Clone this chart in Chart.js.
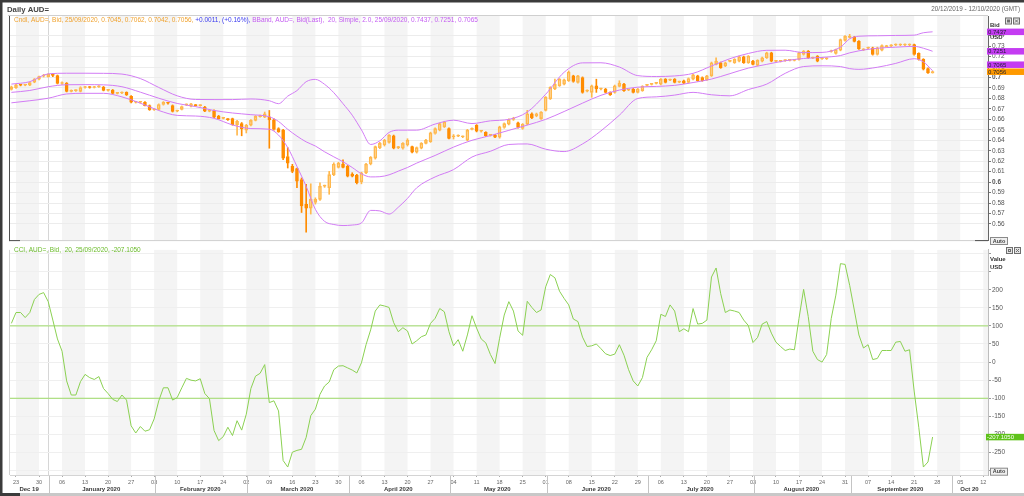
<!DOCTYPE html>
<html>
<head>
<meta charset="utf-8">
<script src="https://cdn.jsdelivr.net/npm/chart.js@4.4.0/dist/chart.umd.min.js"></script>
<style>
  html, body { margin: 0; padding: 0; background: #fff; }
  body { width: 1024px; height: 496px; position: relative; overflow: hidden; }
  canvas { position: absolute; left: 0; }
  #priceChart { top: 0; }
  #cciChart { top: 245px; }
</style>
</head>
<body>
<canvas id="priceChart" width="1024" height="245"></canvas>
<canvas id="cciChart" width="1024" height="251"></canvas>
<script>
// Daily AUD= candles, 20/12/2019 .. 25/09/2020 (one entry per trading day)
const opens = [
  .6886,.6902,.6928,.6927,.6927,.6955,.6984,.7012,.7009,.7028,
  .7018,.6943,.6946,.6868,.6874,.6868,.6905,.6908,.6905,.6910,
  .6908,.6877,.6880,.6849,.6852,.6858,.6820,.6764,.6764,.6764,
  .6732,.6692,.6695,.6742,.6758,.6732,.6679,.6695,.6738,.6726,
  .6735,.6732,.6717,.6679,.6685,.6632,.6610,.6600,.6607,.6550,
  .6559,.6497,.6544,.6591,.6626,.6622,.6625,.6595,.6512,.6497,
  .6245,.6151,.6129,.6025,.5789,.5751,.5805,.5836,.5962,.5946,
  .6072,.6141,.6173,.6151,.6078,.6066,.6003,.6088,.6173,.6229,
  .6330,.6355,.6380,.6443,.6330,.6324,.6355,.6339,.6286,.6324,
  .6371,.6386,.6465,.6497,.6528,.6512,.6434,.6440,.6434,.6402,
  .6505,.6544,.6487,.6475,.6449,.6449,.6430,.6522,.6555,.6600,
  .6566,.6513,.6553,.6654,.6632,.6607,.6686,.6796,.6890,.6921,
  .6937,.6969,.7016,.6953,.7000,.6870,.6858,.6921,.6890,.6890,
  .6858,.6858,.6915,.6937,.6881,.6890,.6858,.6874,.6925,.6934,
  .6944,.6937,.6984,.6975,.6984,.6956,.6969,.6953,.6984,.7016,
  .7000,.6978,.7016,.7126,.7141,.7110,.7154,.7141,.7157,.7198,
  .7141,.7157,.7116,.7157,.7189,.7236,.7154,.7154,.7161,.7164,
  .7164,.7173,.7220,.7252,.7186,.7204,.7179,.7179,.7249,.7230,
  .7261,.7355,.7384,.7387,.7346,.7264,.7280,.7283,.7220,.7261,
  .7296,.7302,.7311,.7311,.7311,.7311,.7314,.7230,.7173,.7085,
  .7045
];
const highs = [
  .6918,.6936,.6934,.6933,.6958,.6990,.7014,.7030,.7036,.7038,
  .7024,.6958,.6952,.6882,.6882,.6912,.6916,.6914,.6916,.6922,
  .6915,.6886,.6886,.6858,.6864,.6863,.6828,.6772,.6772,.6770,
  .6738,.6700,.6748,.6770,.6764,.6738,.6688,.6728,.6748,.6754,
  .6742,.6740,.6724,.6686,.6690,.6638,.6620,.6608,.6612,.6590,
  .6570,.6552,.6598,.6636,.6640,.6670,.6685,.6605,.6520,.6505,
  .6330,.6170,.6135,.6040,.5978,.5984,.5850,.5994,.5972,.6103,
  .6185,.6190,.6214,.6160,.6090,.6075,.6095,.6180,.6245,.6345,
  .6380,.6410,.6455,.6450,.6342,.6378,.6415,.6345,.6336,.6378,
  .6410,.6478,.6518,.6566,.6582,.6518,.6455,.6452,.6442,.6505,
  .6520,.6550,.6495,.6482,.6456,.6458,.6535,.6566,.6604,.6620,
  .6575,.6560,.6686,.6662,.6660,.6675,.6818,.6912,.6984,.6990,
  .6985,.7063,.7022,.7022,.7006,.6882,.6928,.6984,.6898,.6896,
  .6864,.6928,.6969,.6944,.6890,.6896,.6896,.6922,.6936,.6944,
  .6954,.6990,.6990,.6986,.6990,.6966,.6975,.6996,.7032,.7022,
  .7006,.7022,.7148,.7189,.7148,.7148,.7165,.7180,.7205,.7205,
  .7210,.7164,.7170,.7196,.7242,.7242,.7164,.7164,.7170,.7174,
  .7174,.7242,.7258,.7258,.7196,.7210,.7190,.7190,.7262,.7273,
  .7368,.7400,.7413,.7394,.7352,.7276,.7292,.7290,.7290,.7312,
  .7308,.7314,.7322,.7322,.7322,.7322,.7320,.7236,.7180,.7092,
  .7062
];
const lows = [
  .6880,.6896,.6920,.6921,.6922,.6950,.6978,.7005,.7003,.7008,
  .6938,.6935,.6862,.6862,.6866,.6862,.6898,.6898,.6900,.6906,
  .6872,.6870,.6843,.6842,.6846,.6828,.6758,.6756,.6755,.6728,
  .6686,.6686,.6690,.6736,.6746,.6670,.6672,.6690,.6732,.6720,
  .6726,.6726,.6674,.6672,.6617,.6602,.6604,.6590,.6544,.6449,
  .6443,.6470,.6538,.6585,.6620,.6616,.6324,.6497,.6476,.6215,
  .6135,.6090,.5946,.5710,.5522,.5695,.5790,.5826,.5950,.5884,
  .6062,.6135,.6135,.6050,.6050,.5984,.5984,.6080,.6165,.6220,
  .6320,.6345,.6372,.6318,.6320,.6316,.6345,.6280,.6278,.6318,
  .6365,.6380,.6458,.6490,.6522,.6412,.6412,.6434,.6425,.6395,
  .6500,.6480,.6478,.6436,.6440,.6425,.6420,.6515,.6548,.6590,
  .6516,.6505,.6548,.6606,.6625,.6600,.6680,.6790,.6884,.6915,
  .6930,.6962,.6955,.6946,.6850,.6862,.6811,.6858,.6882,.6852,
  .6828,.6850,.6910,.6868,.6874,.6852,.6852,.6868,.6920,.6928,
  .6938,.6930,.6948,.6970,.6948,.6950,.6942,.6948,.6978,.6964,
  .6964,.6972,.7010,.7120,.7088,.7104,.7148,.7135,.7150,.7135,
  .7135,.7120,.7110,.7150,.7182,.7150,.7148,.7148,.7155,.7158,
  .7158,.7166,.7214,.7182,.7180,.7150,.7172,.7172,.7242,.7224,
  .7255,.7348,.7378,.7340,.7268,.7258,.7274,.7214,.7214,.7255,
  .7290,.7296,.7304,.7304,.7304,.7304,.7214,.7166,.7072,.7040,
  .7042
];
const closes = [
  .6912,.6930,.6927,.6927,.6952,.6984,.7009,.7020,.7031,.7020,
  .6943,.6946,.6868,.6874,.6874,.6905,.6908,.6905,.6908,.6915,
  .6877,.6877,.6849,.6849,.6858,.6833,.6764,.6764,.6764,.6732,
  .6692,.6695,.6742,.6764,.6754,.6676,.6682,.6723,.6742,.6748,
  .6732,.6732,.6679,.6679,.6622,.6607,.6613,.6597,.6550,.6581,
  .6512,.6544,.6591,.6629,.6629,.6654,.6595,.6503,.6481,.6229,
  .6182,.6103,.6009,.5773,.5751,.5836,.5836,.5962,.5962,.6072,
  .6173,.6182,.6141,.6056,.6056,.5994,.6088,.6173,.6236,.6339,
  .6371,.6402,.6449,.6324,.6330,.6371,.6402,.6286,.6330,.6371,
  .6402,.6471,.6512,.6560,.6575,.6418,.6434,.6443,.6434,.6497,
  .6512,.6487,.6487,.6443,.6449,.6430,.6528,.6560,.6597,.6607,
  .6522,.6553,.6654,.6613,.6654,.6670,.6811,.6906,.6937,.6984,
  .6978,.7053,.6962,.7016,.6858,.6874,.6921,.6890,.6890,.6858,
  .6833,.6921,.6947,.6874,.6881,.6858,.6890,.6915,.6928,.6937,
  .6947,.6984,.6953,.6978,.6953,.6959,.6947,.6991,.7025,.6969,
  .6969,.7016,.7141,.7157,.7094,.7141,.7157,.7173,.7198,.7141,
  .7204,.7126,.7164,.7189,.7236,.7157,.7157,.7157,.7164,.7167,
  .7167,.7236,.7252,.7189,.7189,.7157,.7182,.7182,.7252,.7267,
  .7362,.7393,.7387,.7346,.7274,.7267,.7283,.7220,.7283,.7305,
  .7299,.7305,.7314,.7314,.7314,.7314,.7220,.7173,.7079,.7045,
  .7056
];

// Bollinger band (20, 2.0) at these trading days
const bbDays = [0,4,8,12,16,20,24,28,32,36,40,44,48,52,56,58,60,62,64,66,
  68,70,72,74,76,78,80,82,84,86,88,92,96,100,104,108,112,116,120,124,
  128,132,136,140,144,148,152,156,160,164,168,172,176,180,182,184,188,192,196,198,200];
const bbUpper = [.6937,.6960,.7035,.7041,.7041,.7040,.7033,.6990,.6905,.6825,
  .6790,.6789,.6789,.6795,.6778,.6750,.6822,.6875,.6960,.6982,
  .6935,.6855,.6750,.6640,.6500,.6360,.6395,.6475,.6497,.6497,
  .6497,.6555,.6592,.6560,.6586,.6600,.6670,.6840,.7050,.7140,
  .7141,.7100,.7018,.7010,.7015,.7040,.7110,.7180,.7230,.7260,
  .7261,.7238,.7240,.7290,.7370,.7395,.7399,.7402,.7405,.7428,.7437];
const bbMiddle = [.6858,.6876,.6912,.6931,.6932,.6930,.6912,.6860,.6802,.6752,
  .6722,.6685,.6661,.6645,.6625,.6580,.6505,.6440,.6385,.6345,
  .6290,.6242,.6195,.6140,.6080,.6050,.6052,.6070,.6105,.6140,
  .6182,.6255,.6335,.6400,.6445,.6495,.6545,.6600,.6675,.6755,
  .6830,.6880,.6908,.6915,.6925,.6952,.6985,.7037,.7090,.7126,
  .7160,.7182,.7192,.7210,.7236,.7255,.7280,.7290,.7298,.7280,.7251];
const bbLower = [.6758,.6778,.6802,.6843,.6849,.6849,.6815,.6755,.6685,.6638,
  .6632,.6610,.6547,.6512,.6506,.6450,.6330,.6150,.5960,.5740,
  .5625,.5595,.5585,.5590,.5610,.5730,.5725,.5695,.5760,.5845,
  .5946,.6050,.6120,.6240,.6295,.6360,.6365,.6315,.6292,.6365,
  .6490,.6640,.6800,.6815,.6832,.6858,.6835,.6825,.6885,.6937,
  .7040,.7105,.7112,.7105,.7085,.7078,.7098,.7135,.7180,.7150,.7065];

// CCI(20), one value per trading day
const cci = [
  107,137,137,123,137,173,187,192,167,116,
  64,30,-52,-91,-91,-54,-34,-43,-48,-40,
  -73,-87,-103,-109,-91,-105,-176,-196,-178,-191,
  -187,-157,-107,-71,-71,-105,-98,-71,-45,-50,
  -52,-46,-87,-101,-189,-217,-206,-180,-203,-162,
  -188,-144,-73,-39,-31,-7,-112,-107,-135,-272,
  -290,-249,-244,-241,-208,-148,-130,-89,-66,-55,
  -21,-11,-10,-16,-22,-30,-2,48,89,141,
  158,155,151,109,84,95,86,50,59,70,
  75,107,121,148,139,84,45,62,30,75,
  128,94,64,53,21,-4,66,130,167,141,
  86,74,168,151,137,144,208,242,233,196,
  176,158,119,112,69,43,45,50,37,23,
  18,22,48,19,-21,-52,-66,-43,13,34,
  59,132,126,158,141,84,92,84,148,105,
  107,116,235,260,189,137,144,141,137,116,
  101,54,68,105,112,80,55,43,32,36,
  34,121,201,126,30,7,0,21,121,185,
  272,270,212,144,75,39,48,7,10,32,
  32,32,55,57,30,34,-80,-180,-290,-276,
  -207.105
];
const cciLevels = [100, -100];

const priceTicks = [0.56,0.57,0.58,0.59,0.6,0.61,0.62,0.63,0.64,0.65,0.66,0.67,0.68,0.69,0.7,0.71,0.72,0.73,0.74];
const boldTicks = [0.6, 0.7];
const cciTicks = [-300,-250,-200,-150,-100,-50,0,50,100,150,200,250,300];
const cciHidden = [-300, 250, 300];

// Mondays from 23 Dec 2019 to 12 Oct 2020
const dayLabels = ['23','30','06','13','20','27','03','10','17','24','02','09','16','23','30',
  '06','13','20','27','04','11','18','25','01','08','15','22','29','06','13','20','27',
  '03','10','17','24','31','07','14','21','28','05','12'];
const monthStarts = [8, 31, 51, 73, 95, 116, 138, 161, 182, 204];
const monthNames = ['Dec 19','January 2020','February 2020','March 2020','April 2020','May 2020',
  'June 2020','July 2020','August 2020','September 2020','Oct 20'];
const yearStart = 8;

const X_MIN = -0.3, X_MAX = 212.03;
const FONT = '"Liberation Sans", Arial, sans-serif';
const DOWN = '#ff8c00', UP = '#ffb84d', BAND = '#d27cf5';
const CCI_LINE = '#8bd152', CCI_LEVEL = '#9edb68';

Chart.defaults.font.family = FONT;
Chart.defaults.animation = false;
Chart.defaults.events = [];
Chart.defaults.plugins.legend.display = false;
Chart.defaults.plugins.tooltip.enabled = false;

const days = closes.map((_, i) => i);
const weekStarts = dayLabels.map((_, k) => 1 + 5 * k);
const isDown = days.map(i => closes[i] < opens[i]);
const isFlat = days.map(i => Math.abs(closes[i] - opens[i]) < 0.0005);

// helpers
function fitSize(ctx, text, weight, target) {
  ctx.font = weight + ' 10px ' + FONT;
  return 10 * target / ctx.measureText(text).width;
}
function hline(ctx, x0, x1, y) { ctx.beginPath(); ctx.moveTo(x0, y); ctx.lineTo(x1, y); ctx.stroke(); }
function vline(ctx, x, y0, y1) { ctx.beginPath(); ctx.moveTo(x, y0); ctx.lineTo(x, y1); ctx.stroke(); }
function drawIcons(ctx, x, y) {
  ctx.lineWidth = 1;
  ctx.fillStyle = '#e4e4e4'; ctx.strokeStyle = '#6e6e6e';
  ctx.fillRect(x, y, 6, 6); ctx.strokeRect(x + 0.5, y + 0.5, 6, 6);
  ctx.strokeRect(x + 2.5, y + 2.5, 2, 2);
  ctx.fillRect(x + 8, y, 6, 6); ctx.strokeRect(x + 8.5, y + 0.5, 6, 6);
  ctx.beginPath();
  ctx.moveTo(x + 10, y + 2); ctx.lineTo(x + 13, y + 5);
  ctx.moveTo(x + 13, y + 2); ctx.lineTo(x + 10, y + 5);
  ctx.stroke();
}
function drawAuto(ctx, x, y) {
  ctx.fillStyle = '#efefef'; ctx.strokeStyle = '#8a8a8a'; ctx.lineWidth = 1;
  ctx.fillRect(x, y, 17, 7); ctx.strokeRect(x + 0.5, y + 0.5, 17, 7);
  ctx.fillStyle = '#444'; ctx.font = 'bold 5.5px ' + FONT;
  ctx.textAlign = 'center'; ctx.textBaseline = 'middle';
  ctx.fillText('Auto', x + 9, y + 4.2);
  ctx.textAlign = 'left';
}
function drawSegments(ctx, x, y, segs, size) {
  ctx.font = size + 'px ' + FONT;
  ctx.textBaseline = 'middle'; ctx.textAlign = 'left';
  segs.forEach(s => { ctx.fillStyle = s[1]; ctx.fillText(s[0], x, y); x += ctx.measureText(s[0]).width; });
}

// alternating week shading + year separator, under the grid
const stripes = {
  id: 'stripes',
  beforeDraw(chart) {
    const { ctx, chartArea: a, scales: { x } } = chart;
    ctx.save();
    ctx.fillStyle = '#f4f4f4';
    weekStarts.forEach((d, k) => {
      if (k % 2) return;
      const x0 = Math.max(a.left, x.getPixelForValue(d));
      const x1 = Math.min(a.right, x.getPixelForValue(d + 5));
      if (x1 > x0) ctx.fillRect(x0, a.top, x1 - x0, a.bottom - a.top);
    });
    ctx.strokeStyle = '#d6d6d6'; ctx.lineWidth = 1;
    vline(ctx, Math.round(x.getPixelForValue(yearStart)) + 0.5, a.top, a.bottom);
    ctx.restore();
  }
};

const priceOverlay = {
  id: 'priceOverlay',
  afterDraw(chart) {
    const { ctx, chartArea: a, scales: { y } } = chart;
    ctx.save();
    ctx.fillStyle = '#3b3b3b';
    ctx.fillRect(0, 0, 1024, 2.5);
    ctx.fillRect(0, 0, 2.5, chart.height);

    ctx.lineWidth = 1; ctx.strokeStyle = '#cfcfcf';
    hline(ctx, 8, a.right, a.top - 0.5);
    hline(ctx, a.left, a.right, a.bottom + 0.5);
    ctx.strokeStyle = '#505050';
    vline(ctx, a.left - 0.5, a.top, a.bottom + 1);
    hline(ctx, a.left - 1, a.left + 10, a.bottom + 0.5);
    hline(ctx, 975, a.right, a.bottom + 0.5);

    // title and date range
    const title = 'Daily AUD=';
    ctx.fillStyle = '#444'; ctx.textBaseline = 'middle';
    ctx.font = 'bold ' + fitSize(ctx, title, 'bold', 42) + 'px ' + FONT;
    ctx.fillText(title, 7, 9.5);
    const range = '20/12/2019 - 12/10/2020 (GMT)';
    ctx.fillStyle = '#666'; ctx.textAlign = 'right';
    ctx.font = fitSize(ctx, range, 'normal', 89) + 'px ' + FONT;
    ctx.fillText(range, 1020, 9.7);
    ctx.textAlign = 'left';

    // legend line built from the last values
    const n = closes.length - 1;
    const chg = closes[n] - closes[n - 1];
    const segs = [
      ['Cndl, AUD=, Bid, 25/09/2020, ' + [opens[n], highs[n], lows[n], closes[n]].map(v => v.toFixed(4)).join(', ') + ', ', '#f0a22e'],
      [(chg >= 0 ? '+' : '') + chg.toFixed(4) + ', (' + (chg >= 0 ? '+' : '') + (chg / closes[n - 1] * 100).toFixed(2) + '%), ', '#3a3af0'],
      ['BBand, AUD=, Bid(Last),  20, Simple, 2.0, 25/09/2020, ' + [bbUpper, bbMiddle, bbLower].map(b => b[b.length - 1].toFixed(4)).join(', '), '#c45cf2']
    ];
    drawSegments(ctx, 14, 20.5, segs, fitSize(ctx, segs.map(s => s[0]).join(''), 'normal', 465));

    // axis captions
    ctx.fillStyle = '#333'; ctx.font = 'bold 6px ' + FONT;
    ctx.fillText('Bid', 990, 25);
    ctx.fillText('USD', 990, 37);

    // last value boxes
    const boxes = [
      { v: closes[n], bg: '#ff9a00' },
      { v: bbLower[bbLower.length - 1], bg: '#c43cf2' },
      { v: bbMiddle[bbMiddle.length - 1], bg: '#c43cf2' },
      { v: bbUpper[bbUpper.length - 1], bg: '#c43cf2' }
    ].map(b => ({ ...b, y: y.getPixelForValue(b.v) })).sort((p, q) => q.y - p.y);
    for (let i = 1; i < boxes.length; i++) {
      if (boxes[i].y > boxes[i - 1].y - 7) boxes[i].y = boxes[i - 1].y - 7;
    }
    ctx.font = '6px ' + FONT;
    boxes.forEach(b => {
      ctx.fillStyle = b.bg; ctx.fillRect(987, b.y - 3.2, 37, 6.5);
      ctx.fillStyle = '#1e1e30'; ctx.fillText(b.v.toFixed(4), 988, b.y + 0.2);
    });

    drawIcons(ctx, 1005, 17.5);
    drawAuto(ctx, 990, 237);
    ctx.restore();
  }
};

const OFF = 245;
const cciOverlay = {
  id: 'cciOverlay',
  afterDraw(chart) {
    const { ctx, chartArea: a, scales: { x, y } } = chart;
    ctx.save();
    ctx.fillStyle = '#3b3b3b';
    ctx.fillRect(0, 0, 2.5, chart.height);
    ctx.lineWidth = 1; ctx.strokeStyle = '#d0d0d0';
    vline(ctx, a.left - 0.5, a.top, a.bottom);

    const last = cci[cci.length - 1];
    const head = 'CCI, AUD=, Bid,  20, 25/09/2020, ' + last.toFixed(4);
    drawSegments(ctx, 14, 250.5 - OFF, [[head, '#6cbc2c']], fitSize(ctx, head, 'normal', 127));

    ctx.fillStyle = '#333'; ctx.font = 'bold 6px ' + FONT;
    ctx.fillText('Value', 990, 259 - OFF);
    ctx.fillText('USD', 990, 267 - OFF);

    const by = y.getPixelForValue(last);
    ctx.fillStyle = '#5ec21a'; ctx.fillRect(986, by - 3.2, 38, 6.5);
    ctx.fillStyle = '#fff'; ctx.font = '6px ' + FONT;
    ctx.fillText(last.toFixed(4), 987, by + 0.2);

    drawIcons(ctx, 1006, 247 - OFF);
    drawAuto(ctx, 990, 467.7 - OFF);

    // month row
    const bounds = [X_MIN, ...monthStarts, X_MAX];
    ctx.strokeStyle = '#c4c4c4';
    monthStarts.forEach(m => vline(ctx, Math.round(x.getPixelForValue(m + 0.25)) + 0.5, a.bottom + 1, 493 - OFF));
    ctx.fillStyle = '#3a3a3a'; ctx.font = 'bold 6px ' + FONT;
    ctx.textAlign = 'center'; ctx.textBaseline = 'middle';
    monthNames.forEach((name, i) => {
      const cx = (x.getPixelForValue(bounds[i]) + x.getPixelForValue(bounds[i + 1])) / 2;
      ctx.fillText(name, cx, 489.5 - OFF);
    });
    ctx.textAlign = 'left';

    ctx.fillStyle = '#c8c8c8'; ctx.fillRect(0, 493 - OFF, 1024, 3);
    ctx.fillStyle = '#3b3b3b'; ctx.fillRect(0, 493 - OFF, 20, 3);
    ctx.restore();
  }
};

// ---- price panel ----
const lowWick = days.map(i => ({ x: i, y: [lows[i], Math.min(opens[i], closes[i])] }));
const highWick = days.map(i => ({ x: i, y: [Math.max(opens[i], closes[i]), highs[i]] }));
const bodies = days.map(i => ({ x: i, y: [opens[i], closes[i]] }));
const wickColor = days.map(i => isDown[i] ? DOWN : UP);
const bodyEdge = days.map(i => isDown[i] ? DOWN : UP);
const bodyFill = days.map(i => isDown[i] ? DOWN : (isFlat[i] ? UP : 'rgba(255,255,255,0)'));
const band = vals => bbDays.map((d, i) => ({ x: d, y: vals[i] }));
const bandSet = (label, vals) => ({
  type: 'line', label, data: band(vals), borderColor: BAND, borderWidth: 1,
  pointRadius: 0, cubicInterpolationMode: 'monotone', order: 0
});

new Chart(document.getElementById('priceChart'), {
  type: 'bar',
  data: {
    datasets: [
      bandSet('BB upper', bbUpper),
      bandSet('BB middle', bbMiddle),
      bandSet('BB lower', bbLower),
      { label: 'body', data: bodies, backgroundColor: bodyFill, borderColor: bodyEdge, borderWidth: 1,
        borderSkipped: false, barThickness: 3, minBarLength: 1, grouped: false, order: 1 },
      { label: 'high wick', data: highWick, backgroundColor: wickColor, barThickness: 1, grouped: false, order: 2 },
      { label: 'low wick', data: lowWick, backgroundColor: wickColor, barThickness: 1, grouped: false, order: 2 }
    ]
  },
  options: {
    responsive: false,
    layout: { padding: { left: 10, top: 16, right: 0, bottom: 2 }, autoPadding: false },
    scales: {
      x: { type: 'linear', min: X_MIN, max: X_MAX, offset: false, display: false },
      y: {
        position: 'right', min: 0.5446, max: 0.7588,
        afterBuildTicks: s => { s.ticks = priceTicks.map(v => ({ value: v })); },
        afterFit: s => { s.width = 36; },
        grid: { color: '#ececec', tickLength: 3, tickColor: '#777' },
        border: { display: true, color: '#666' },
        ticks: {
          padding: 1, color: '#555',
          font: c => ({ size: 6.5, weight: boldTicks.includes(c.tick && c.tick.value) ? 'bold' : 'normal' }),
          callback: v => String(Math.round(v * 100) / 100)
        }
      }
    }
  },
  plugins: [stripes, priceOverlay]
});

// ---- CCI panel ----
const levelSet = lvl => ({
  label: 'level ' + lvl, data: [{ x: X_MIN, y: lvl }, { x: X_MAX, y: lvl }],
  borderColor: CCI_LEVEL, borderWidth: 1, pointRadius: 0
});

new Chart(document.getElementById('cciChart'), {
  type: 'line',
  data: {
    datasets: [
      { label: 'CCI', data: days.map(i => ({ x: i, y: cci[i] })), borderColor: CCI_LINE,
        borderWidth: 1, pointRadius: 0, tension: 0 },
      ...cciLevels.map(levelSet)
    ]
  },
  options: {
    responsive: false,
    layout: { padding: { left: 10, top: 2, right: 0, bottom: 0 }, autoPadding: false },
    scales: {
      x: {
        type: 'linear', min: X_MIN, max: X_MAX, offset: false,
        afterBuildTicks: s => { s.ticks = weekStarts.map(v => ({ value: v })); },
        afterFit: s => { s.height = 21; },
        grid: { drawOnChartArea: false, tickLength: 2, tickColor: '#aaa' },
        border: { display: true, color: '#d4d4d4' },
        ticks: {
          autoSkip: false, maxRotation: 0, minRotation: 0, padding: 2, color: '#666',
          font: { size: 5.5 },
          callback: (v, i) => dayLabels[i]
        }
      },
      y: {
        position: 'right', min: -312, max: 310,
        afterBuildTicks: s => { s.ticks = cciTicks.map(v => ({ value: v })); },
        afterFit: s => { s.width = 36; },
        grid: { color: '#efefef', tickLength: 3, tickColor: '#999' },
        border: { display: true, color: '#bdbdbd' },
        ticks: {
          padding: 1, color: '#555', font: { size: 6.5 },
          callback: v => cciHidden.includes(v) ? '' : String(v)
        }
      }
    }
  },
  plugins: [stripes, cciOverlay]
});
</script>
</body>
</html>
